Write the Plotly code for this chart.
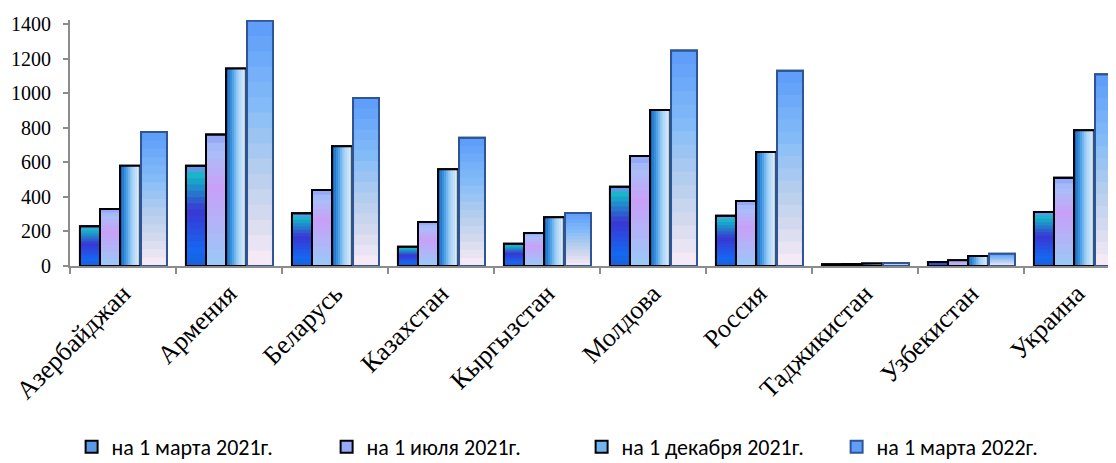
import plotly.graph_objects as go

categories = ["Азербайджан", "Армения", "Беларусь", "Казахстан", "Кыргызстан",
              "Молдова", "Россия", "Таджикистан", "Узбекистан", "Украина"]
series_names = ["на 1 марта 2021г.", "на 1 июля 2021г.", "на 1 декабря 2021г.", "на 1 марта 2022г."]
mar2021 = [230, 580, 305, 112, 129, 459, 291, 10, 23, 312]
jul2021 = [330, 760, 440, 255, 191, 636, 376, 12, 33, 511]
dec2021 = [580, 1142, 692, 559, 282, 902, 660, 15, 58, 785]
mar2022 = [775, 1420, 972, 742, 307, 1246, 1130, 17, 71, 1109]
y_ticks = [0, 200, 400, 600, 800, 1000, 1200, 1400]


def hex2rgb(h):
    h = h.lstrip("#")
    return tuple(int(h[i:i + 2], 16) for i in (0, 2, 4))


def interp(stops, t):
    for (t0, c0), (t1, c1) in zip(stops[:-1], stops[1:]):
        if t0 <= t <= t1:
            f = 0 if t1 == t0 else (t - t0) / (t1 - t0)
            a, b = hex2rgb(c0), hex2rgb(c1)
            return "rgb(%d,%d,%d)" % tuple(round(a[i] + (b[i] - a[i]) * f) for i in range(3))
    return stops[-1][1]


fig = go.Figure()


def add_vgrad(values, name, offset, width, line_color, stops, n=16):
    fig.add_trace(go.Bar(x=categories, y=values, name=name, offset=offset, width=width,
                         marker=dict(color=interp(stops, 0.5 / n), line=dict(color=line_color, width=2)),
                         legendgroup=name))
    for k in range(1, n):
        frac = 1 - k / n
        fig.add_trace(go.Bar(x=categories, y=[v * frac for v in values], offset=offset, width=width,
                             showlegend=False, hoverinfo="skip", legendgroup=name,
                             marker=dict(color=interp(stops, (k + 0.5) / n), line=dict(width=0))))
    fig.add_trace(go.Bar(x=categories, y=values, offset=offset, width=width, showlegend=False,
                         hoverinfo="skip", legendgroup=name,
                         marker=dict(color="rgba(0,0,0,0)", line=dict(color=line_color, width=2))))


def add_hgrad(values, name, offset, width, legend_color, line_color, stops, m=10):
    fig.add_trace(go.Bar(x=categories, y=values, name=name, offset=offset, width=width,
                         marker=dict(color=legend_color, line=dict(color=line_color, width=2)),
                         legendgroup=name))
    for j in range(m):
        fig.add_trace(go.Bar(x=categories, y=values, offset=offset + j * width / m, width=width / m * 1.05,
                             showlegend=False, hoverinfo="skip", legendgroup=name,
                             marker=dict(color=interp(stops, (j + 0.5) / m), line=dict(width=0))))
    fig.add_trace(go.Bar(x=categories, y=values, offset=offset, width=width, showlegend=False,
                         hoverinfo="skip", legendgroup=name,
                         marker=dict(color="rgba(0,0,0,0)", line=dict(color=line_color, width=2))))


add_vgrad(mar2021, series_names[0], -0.406, 0.189, "#000000",
          [(0, "#7a8cf0"), (0.1, "#14b8c8"), (0.45, "#3a36d4"), (0.85, "#1468f2"), (1, "#1a60d8")])
add_vgrad(jul2021, series_names[1], -0.217, 0.189, "#000000",
          [(0, "#90a0f8"), (0.12, "#a8c0f8"), (0.4, "#c8a0f8"), (1, "#98caf8")])
add_hgrad(dec2021, series_names[2], -0.028, 0.192, "#70b4f0", "#000000",
          [(0, "#0a5fb8"), (0.3, "#3f98e4"), (0.6, "#a8d4f8"), (0.85, "#d8eafa"), (1, "#a6cdf0")])
add_vgrad(mar2022, series_names[3], 0.170, 0.245, "#2f5597",
          [(0, "#5b9bf9"), (0.35, "#84bcf8"), (0.6, "#b4cdee"), (0.82, "#d8dcef"), (1, "#fcecf8")])

fig.update_layout(
    width=1116, height=463,
    barmode="overlay",
    plot_bgcolor="white", paper_bgcolor="white",
    margin=dict(l=62, r=8, t=12, b=205),
    showlegend=True,
    legend=dict(orientation="h", yref="container", y=0.052, yanchor="middle",
                xref="container", x=0.057, xanchor="left",
                font=dict(family="Carlito, Lato, Noto Sans", size=22, color="#000"),
                itemwidth=30, entrywidth=210, tracegroupgap=0),
    font=dict(family="Liberation Serif", color="#000"),
)
fig.update_xaxes(range=[-0.5, 9.368], showline=True, linecolor="#8c8c8c", linewidth=2,
                 ticks="outside", tickson="boundaries", ticklen=6, tickcolor="#8c8c8c", tickwidth=2,
                 tickangle=-45, tickfont=dict(family="Liberation Serif", size=26, color="#000"),
                 showgrid=False, zeroline=False, automargin=False)
fig.update_yaxes(range=[0, 1423], tickvals=y_ticks, showline=True, linecolor="#8c8c8c", linewidth=2,
                 ticks="outside", ticklen=5, tickcolor="#8c8c8c", tickwidth=2,
                 tickfont=dict(family="Liberation Serif", size=20, color="#000"),
                 ticklabelstandoff=8,
                 showgrid=False, zeroline=False, automargin=False)

fig.write_html("out.html")
